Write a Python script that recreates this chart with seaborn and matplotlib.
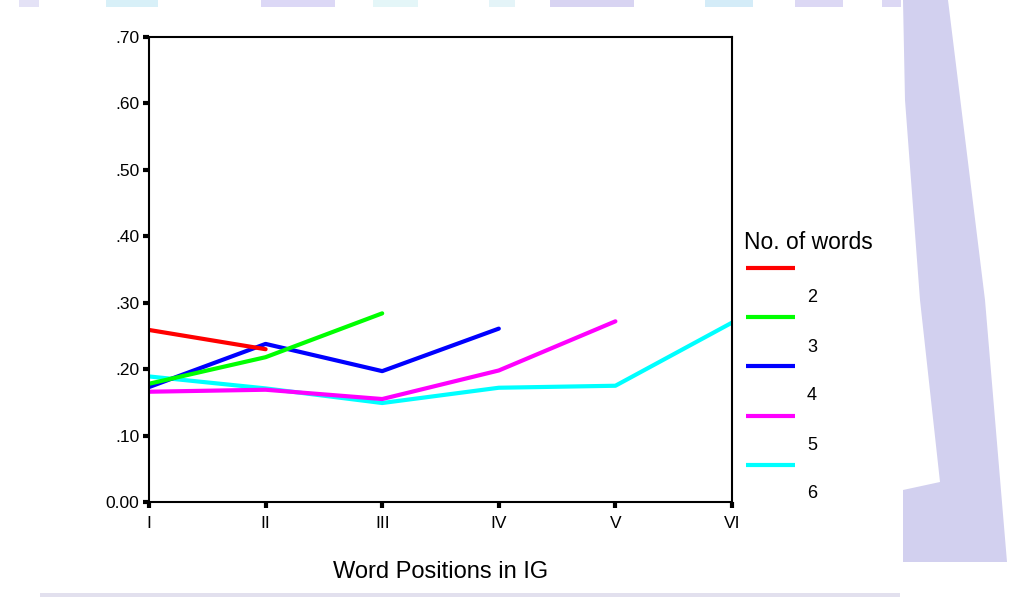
import matplotlib
matplotlib.use("Agg")
import matplotlib.pyplot as plt
from matplotlib.patches import Polygon, Rectangle
from matplotlib.lines import Line2D
import seaborn as sns
import pandas as pd

# Mean values per word position, one series per phrase length
positions = ["I", "II", "III", "IV", "V", "VI"]
words_2 = [0.259, 0.230]
words_3 = [0.178, 0.218, 0.284]
words_4 = [0.173, 0.238, 0.197, 0.261]
words_5 = [0.166, 0.169, 0.155, 0.198, 0.272]
words_6 = [0.189, 0.171, 0.149, 0.172, 0.175, 0.270]
legend_labels = ["2", "3", "4", "5", "6"]
y_ticks = [0.0, 0.1, 0.2, 0.3, 0.4, 0.5, 0.6, 0.7]
y_tick_labels = ["0.00", ".10", ".20", ".30", ".40", ".50", ".60", ".70"]

series = {"2": words_2, "3": words_3, "4": words_4, "5": words_5, "6": words_6}
rows = []
for n, vals in series.items():
    for i, v in enumerate(vals):
        rows.append({"pos": i, "value": v, "words": n})
df = pd.DataFrame(rows)

colors = ["#ff0000", "#00ff00", "#0000ff", "#ff00ff", "#00ffff"]
palette = dict(zip(legend_labels, colors))

sns.set_theme(style="white")
plt.rcParams["font.family"] = ["Liberation Sans", "DejaVu Sans"]
plt.rcParams["text.color"] = "black"
plt.rcParams["axes.labelcolor"] = "black"
plt.rcParams["xtick.color"] = "black"
plt.rcParams["ytick.color"] = "black"

W, H = 1009, 597
fig = plt.figure(figsize=(W / 100, H / 100), dpi=100)
fig.patch.set_facecolor("white")


def px(x, y):
    return (x / W, 1 - y / H)


# Decorative slide background around the white chart area
lav = "#d2d0ef"
fig.patches.append(Polygon(
    [px(903, 0), px(948, 0), px(985, 300), px(1007, 562), px(903, 562),
     px(903, 490), px(940, 482), px(920, 300), px(905, 100)],
    closed=True, transform=fig.transFigure, facecolor=lav, edgecolor="none", zorder=0))
top_blocks = [(19, 39, "#e4e2f6"), (106, 158, "#d8f0f8"), (261, 335, "#dcd8f6"),
              (373, 418, "#e4f6f8"), (489, 515, "#e4f4f8"), (550, 634, "#d8d4f2"),
              (705, 753, "#d4ecf8"), (795, 843, "#dcd8f4"), (882, 901, "#dcd8f4")]
for x0, x1, c in top_blocks:
    fig.patches.append(Rectangle(px(x0, 7), (x1 - x0) / W, 7 / H,
                                 transform=fig.transFigure, facecolor=c,
                                 edgecolor="none", zorder=0))
fig.patches.append(Rectangle(px(40, 597), 860 / W, 4 / H, transform=fig.transFigure,
                             facecolor="#e2e0ee", edgecolor="none", zorder=0))

ax = fig.add_axes([149 / W, 1 - 502 / H, (732 - 149) / W, (502 - 37) / H])
ax.set_facecolor("white")

sns.lineplot(data=df, x="pos", y="value", hue="words",
             hue_order=legend_labels[::-1], palette=palette,
             linewidth=3, legend=False, ax=ax)

ax.set_xlim(0, 5)
ax.set_ylim(0, 0.7)
ax.set_xticks(range(len(positions)))
ax.set_xticklabels(positions, fontsize=12.5)
ax.set_yticks(y_ticks)
ax.set_yticklabels(y_tick_labels, fontsize=12.5)
ax.set_xlabel("Word Positions in IG", fontsize=17, labelpad=22)
ax.set_ylabel("")
ax.tick_params(axis="y", direction="out", length=4, width=3, color="black",
               left=True, pad=3)
ax.tick_params(axis="x", direction="out", length=4, width=3, color="black",
               bottom=True, pad=6)
for s in ax.spines.values():
    s.set_visible(True)
    s.set_color("black")
    s.set_linewidth(1.5)

# Legend block beside the plot
fig.text(*px(744, 242), "No. of words", fontsize=16.5, va="center", ha="left")
line_y = [268, 317, 366, 416, 465]
label_y = [298, 347, 396, 445, 494]
for c, ly, ty, lab in zip(colors, line_y, label_y, legend_labels):
    x0, y0 = px(746, ly)
    x1, _ = px(795, ly)
    fig.add_artist(Line2D([x0, x1], [y0, y0], transform=fig.transFigure,
                          color=c, linewidth=3, solid_capstyle="butt"))
    fig.text(*px(807, ty), lab, fontsize=13, va="center", ha="left")

fig.savefig("out.png", dpi=100, facecolor=fig.get_facecolor())
